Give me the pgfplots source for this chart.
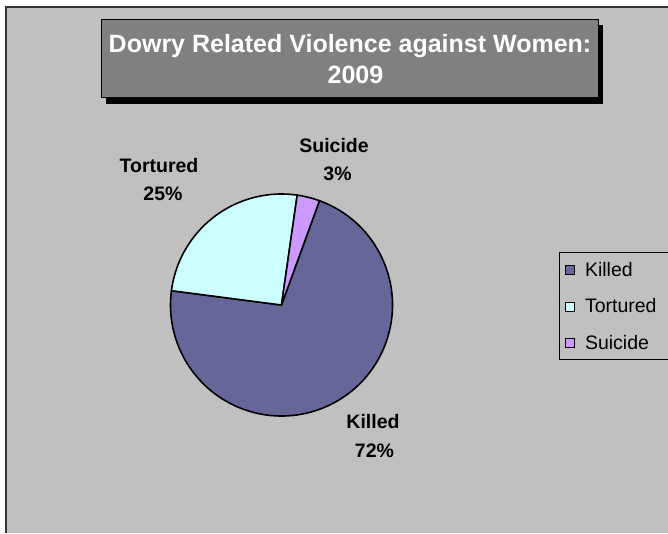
\documentclass[border=0pt]{standalone}
\usepackage{pgfplots}
\usepackage{pgfplotstable}
\pgfplotsset{compat=1.18}
\usepackage{fontspec}
\setmainfont{Liberation Sans}

\definecolor{chartbg}{HTML}{C0C0C0}
\definecolor{titlebg}{HTML}{808080}
\definecolor{killedc}{HTML}{666699}
\definecolor{torturedc}{HTML}{CCFFFF}
\definecolor{suicidec}{HTML}{CC99FF}

% share of each kind of violence, in percent
\pgfplotstableread{
label value
Killed 71.5
Tortured 25.2
Suicide 3.3
}\piedata
\pgfplotstablecreatecol[create col/expr accum={\pgfmathaccuma+\thisrow{value}}{0}]{cum}{\piedata}

% a slice is drawn at the pie centre from the running sum (first slice starts at 70 deg, clockwise)
\pgfplotsset{
  pie slice/.style={
    scatter, only marks, mark=*, mark size=0pt,
    mark options={draw=none, fill=none},
    visualization depends on={70-3.6*(\thisrow{cum}-\thisrow{value}) \as \astart},
    visualization depends on={70-3.6*\thisrow{cum} \as \aend},
    scatter/@pre marker code/.code={%
      \filldraw[fill=#1, draw=black, line width=1.6pt, line join=round]
        (0pt,0pt) -- (\astart:111pt) arc[start angle=\astart, end angle=\aend, radius=111pt] -- cycle;},
    scatter/@post marker code/.code={},
    legend image code/.code={%
      \filldraw[fill=#1, draw=black, line width=0.8pt] (0pt,-4.5pt) rectangle (9pt,4.5pt);},
  },
}

\begin{document}
\begin{tikzpicture}
% chart area
\fill[white] (0pt,0pt) rectangle (668pt,533pt);
\fill[chartbg] (6pt,0pt) rectangle (668pt,526pt);
\draw[line width=2pt, black!80] (6pt,0pt) -- (6pt,526pt) -- (668pt,526pt);

\begin{axis}[
  at={(0pt,0pt)}, anchor=south west,
  scale only axis, width=668pt, height=533pt,
  xmin=0, xmax=668, ymin=0, ymax=533, y dir=reverse,
  hide axis, clip=false,
  legend cell align=left,
  legend style={at={(axis cs:565,252)}, anchor=north west,
    draw=none, fill=none, inner xsep=0pt, inner ysep=8pt, row sep=17pt,
    font=\fontsize{19.5}{23}\selectfont,
    nodes={inner sep=2pt},
    /tikz/every odd column/.append style={column sep=8pt}},
]
% title box with shadow
\fill[black] (axis cs:106,25) rectangle (axis cs:603,103.5);
\filldraw[fill=titlebg, draw=black, line width=0.8pt] (axis cs:101,19.5) rectangle (axis cs:598,97.7);
\node[text=white, font=\bfseries\fontsize{25}{30}\selectfont, anchor=base]
  at (axis cs:350,52.7) {Dowry Related Violence against Women:};
\node[text=white, font=\bfseries\fontsize{25}{30}\selectfont, anchor=base]
  at (axis cs:355.5,83) {2009};

% legend frame
\filldraw[fill=chartbg, draw=black, line width=1pt] (axis cs:559,252) rectangle (axis cs:690,359);

\addplot[pie slice=killedc] table[x expr=281.5, y expr=305, skip coords between index={1}{3}] {\piedata};
\addplot[pie slice=torturedc] table[x expr=281.5, y expr=305, skip coords between index={0}{1}, skip coords between index={2}{3}] {\piedata};
\addplot[pie slice=suicidec] table[x expr=281.5, y expr=305, skip coords between index={0}{2}] {\piedata};
\legend{Killed, Tortured, Suicide}

% slice labels
\begin{scope}[every node/.style={font=\bfseries\fontsize{19.5}{23}\selectfont, anchor=base}]
\node at (axis cs:159,172) {Tortured};
\node at (axis cs:163,200) {25\%};
\node at (axis cs:334,152) {Suicide};
\node at (axis cs:337.5,180) {3\%};
\node at (axis cs:373,428) {Killed};
\node at (axis cs:374.5,457) {72\%};
\end{scope}
\end{axis}
\pgfresetboundingbox
\useasboundingbox (0pt,0pt) rectangle (668pt,533pt);
\end{tikzpicture}
\end{document}
